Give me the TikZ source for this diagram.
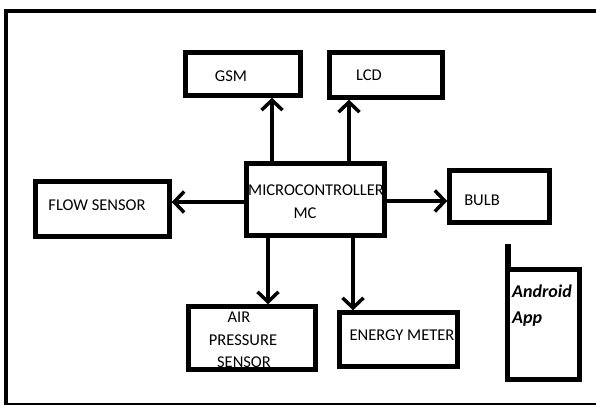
\documentclass[tikz,border=0pt]{standalone}
\usepackage{fontspec}
\setmainfont{Carlito}
\usetikzlibrary{arrows.meta}

\tikzset{
    blk/.style={draw, line width=4.5pt, minimum width=#1, inner sep=0pt},
    txt/.style={inner sep=0pt, font=\fontsize{16.5}{16.5}\selectfont},
    apptxt/.style={inner sep=0pt, anchor=west, font=\fontsize{18}{18}\selectfont\bfseries\itshape},
    arr/.style={line width=3.5pt, -{Straight Barb[length=10pt, width=21pt]}}
}

\begin{document}
\begin{tikzpicture}[x=1pt, y=-1pt]
    \useasboundingbox (0,0) rectangle (596,407);

    % outer frame
    \draw[line width=4.5pt] (600,11) -- (6,11) -- (6,405);
    \draw[line width=2.5pt] (6,404) -- (600,404);

    % Define blocks (centre of each box)
    \node[blk=115pt, minimum height=43pt] (GSM) at (243,74) {};
    \node[blk=113pt, minimum height=45pt] (LCD) at (386,75) {};
    \node[blk=138pt, minimum height=72pt] (MC) at (315.5,199.5) {};
    \node[blk=134pt, minimum height=55pt] (Flow) at (102.5,209) {};
    \node[blk=100pt, minimum height=52pt] (Bulb) at (499.5,196.5) {};
    \node[blk=127pt, minimum height=63pt] (Air) at (252,338) {};
    \node[blk=118pt, minimum height=54pt] (Energy) at (398.5,339.5) {};
    \node[blk=72pt, minimum height=110pt] (App) at (543.5,324.5) {};

    % Texts
    \node[txt] (GSMtxt) at (231,76) {GSM};
    \node[txt] (LCDtxt) at (369,75) {LCD};
    \node[txt] (MCtxt1) at (316,190) {MICROCONTROLLER};
    \node[txt] (MCtxt2) at (305,213) {MC};
    \node[txt] (Flowtxt) at (97,205) {FLOW SENSOR};
    \node[txt] (Bulbtxt) at (482,200) {BULB};
    \node[txt] (Airtxt1) at (239,317) {AIR};
    \node[txt] (Airtxt2) at (243,340) {PRESSURE};
    \node[txt] (Airtxt3) at (244,362) {SENSOR};
    \node[txt] (Energytxt) at (402,335) {ENERGY METER};
    \node[apptxt] (Apptxt1) at (512,291) {Android};
    \node[apptxt] (Apptxt2) at (512,319) {App};

    % Draw connectors
    \draw[arr] ([xshift=-43.5]MC.north) -- ([xshift=-43.5]MC.north |- GSM.south);
    \draw[arr] ([xshift=33.5]MC.north) -- ([xshift=33.5]MC.north |- LCD.south);
    \draw[arr] ([yshift=-2.5]MC.west) -- ([yshift=-2.5]MC.west -| Flow.east);
    \draw[arr] ([yshift=-1.5]MC.east) -- ([yshift=-1.5]MC.east -| Bulb.west);
    \draw[arr] ([xshift=-47.5]MC.south) -- ([xshift=-47.5]MC.south |- Air.north);
    \draw[arr] ([xshift=37.5]MC.south) -- ([xshift=37.5]MC.south |- Energy.north);

    % antenna
    \coordinate (Ant) at (508,244);
    \draw[line width=5.5pt] (Ant) -- (Ant |- App.north);
\end{tikzpicture}
\end{document}
